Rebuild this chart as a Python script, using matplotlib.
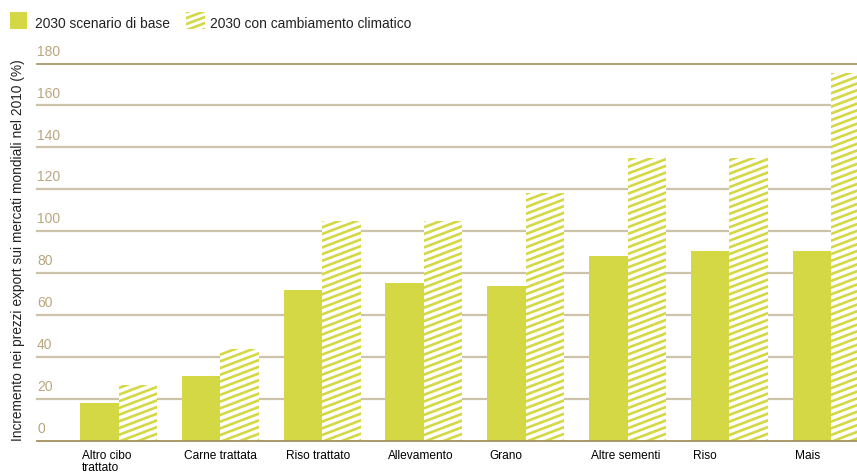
import matplotlib
matplotlib.use('Agg')
import matplotlib.pyplot as plt
import numpy as np
from matplotlib.collections import LineCollection
from matplotlib.patches import Rectangle
from matplotlib.transforms import IdentityTransform, offset_copy

# data
categories = ['Altro cibo\ntrattato', 'Carne trattata', 'Riso trattato', 'Allevamento',
              'Grano', 'Altre sementi', 'Riso', 'Mais']
base_2030 = [18.1, 31.0, 72.0, 75.4, 73.9, 88.3, 90.7, 90.7]
climate_2030 = [26.6, 43.8, 105.0, 105.0, 118.4, 134.7, 134.7, 175.4]
y_ticks = [0, 20, 40, 60, 80, 100, 120, 140, 160, 180]

GREEN = '#d4d844'
DARK_GRID = '#a48f5f'
LIGHT_GRID = '#cdc2aa'
TICK_COL = '#baa67e'
W, H = 857, 475

fig = plt.figure(figsize=(W / 100, H / 100), dpi=100)
# axes placed in pixels: x 37..857, y (from top) 63.5..440.5
ax = fig.add_axes([37 / W, (H - 440.5) / H, 820 / W, 377 / H])
ax.set_xlim(-0.8006, 7.254)
ax.set_ylim(0, 180)
for s in ax.spines.values():
    s.set_visible(False)


def stripes(rect_px, clip_patch, parent, slope=0.38, gap=6.7, lw=1.9):
    '''Shallow diagonal stripes inside a pixel box, clipped to a patch.'''
    x0, y0, x1, y1 = rect_px
    span = (x1 - x0) * slope
    segs = []
    start = y0 - span - gap
    while start < y1 + gap:
        segs.append([(x0 - 2, start - 2 * slope), (x1 + 2, start + (x1 - x0 + 2) * slope)])
        start += gap
    lc = LineCollection(segs, colors=GREEN, linewidths=lw, transform=IdentityTransform(),
                        zorder=3, capstyle='butt')
    parent.add_artist(lc)
    # set the clip after adding, otherwise the axes replaces it with its own box
    lc.set_clip_path(clip_patch)


x = np.arange(len(categories))
bw = 0.378

# grid lines
for v in y_ticks:
    if v == 0:
        continue
    col = DARK_GRID if v == 180 else LIGHT_GRID
    ax.axhline(v, color=col, lw=1.6 if v != 180 else 1.2, zorder=0, clip_on=False)
ax.axhline(0, color=DARK_GRID, lw=1.3, zorder=4, clip_on=False)

ax.bar(x - bw / 2, base_2030, bw, color=GREEN, zorder=2, linewidth=0)
hb = ax.bar(x + bw / 2, climate_2030, bw, color='white', zorder=2, linewidth=0)
for p in hb.patches:
    (px0, py0), (px1, py1) = ax.transData.transform([(p.get_x(), 0), (p.get_x() + p.get_width(), p.get_height())])
    stripes((px0, py0, px1, py1), p, ax)

# y tick labels sit above each line
ax.set_yticks([])
lab_tr = offset_copy(ax.get_yaxis_transform(), fig=fig, y=5.6, units='points')
for v in y_ticks:
    ax.text(0.0, v, str(v), transform=lab_tr, ha='left', va='baseline',
            fontsize=10, color=TICK_COL, family=['Liberation Sans', 'DejaVu Sans'])

ax.set_xticks(x - bw + 0.02)
ax.set_xticklabels(categories, ha='left', va='top', fontsize=8.6, linespacing=1.0,
                   family=['Liberation Sans Narrow', 'Liberation Sans', 'DejaVu Sans'])
ax.tick_params(axis='x', length=0, pad=7)

fig.text(18 / W, (H - 250) / H, 'Incremento nei prezzi export sui mercati mondiali nel 2010 (%)',
         rotation=90, ha='center', va='center', fontsize=9.9, color='#222222',
         family=['Liberation Sans', 'DejaVu Sans'])

# legend, drawn by hand
fig.patches.append(Rectangle((10, H - 29), 17, 17, transform=IdentityTransform(),
                             facecolor=GREEN, edgecolor='none', figure=fig))
fig.text(35 / W, (H - 24.5) / H, '2030 scenario di base', ha='left', va='center',
         fontsize=9.9, color='#222222', family=['Liberation Sans', 'DejaVu Sans'])
leg_box = Rectangle((186, H - 29), 19, 17, transform=IdentityTransform(),
                    facecolor='white', edgecolor='none', figure=fig)
fig.patches.append(leg_box)
stripes((186, H - 29, 205, H - 12), leg_box, fig, gap=6.0)
fig.text(210 / W, (H - 24.5) / H, '2030 con cambiamento climatico', ha='left', va='center',
         fontsize=9.9, color='#222222', family=['Liberation Sans', 'DejaVu Sans'])

fig.savefig('out.png', dpi=100)
